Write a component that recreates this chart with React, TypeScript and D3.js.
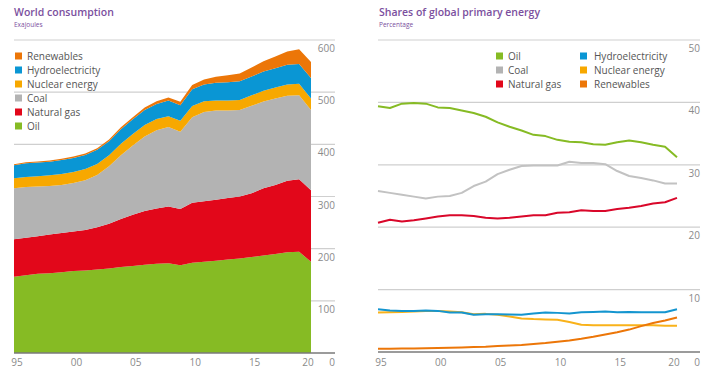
import React from 'react';
import * as d3 from 'd3';

const years = [1995, 1996, 1997, 1998, 1999, 2000, 2001, 2002, 2003, 2004, 2005, 2006, 2007, 2008, 2009, 2010, 2011, 2012, 2013, 2014, 2015, 2016, 2017, 2018, 2019, 2020];

// World consumption, exajoules
const oilEJ = [146, 149, 152, 153, 155, 157, 158, 160, 162, 165, 167, 169, 171, 172, 168, 173, 175, 177, 179, 181, 184, 187, 190, 193, 194, 175];
const gasEJ = [72, 72, 72, 74, 75, 76, 78, 81, 86, 92, 98, 103, 106, 109, 108, 115, 116, 117, 118, 119, 122, 129, 132, 137, 139, 137];
const coalEJ = [98, 97, 95, 93, 92, 93, 95, 100, 110, 122, 133, 143, 150, 152, 148, 164, 171, 171, 168, 166, 168, 166, 166, 163, 161, 154];
const nuclearEJ = [19, 19.5, 20, 20.5, 21, 21, 21.5, 21.5, 21, 22, 22, 22, 21.5, 21, 21, 21.5, 20.5, 19, 19, 19, 20, 20.5, 21, 21.5, 22, 22];
const hydroEJ = [25, 26, 26, 26, 27, 27, 27, 27, 27, 28, 28, 29, 29, 30, 30, 32, 32, 34, 35, 36, 36, 37, 37, 38, 38, 39];
const renewEJ = [2, 2, 2.2, 2.3, 2.5, 2.6, 2.8, 3.1, 3.3, 3.7, 4.1, 4.6, 5.2, 6.0, 6.8, 8.2, 9.7, 11.4, 13.2, 15, 17.3, 19.6, 22.5, 25.5, 28.5, 31];

// Shares of global primary energy, percentage
const oilPct = [39.4, 39.1, 39.8, 39.9, 39.8, 39.2, 39.1, 38.7, 38.3, 37.7, 36.8, 36.1, 35.5, 34.8, 34.6, 34.0, 33.7, 33.6, 33.3, 33.2, 33.6, 33.9, 33.6, 33.2, 32.9, 31.2];
const coalPct = [25.8, 25.5, 25.2, 24.9, 24.6, 24.9, 25.0, 25.5, 26.6, 27.3, 28.5, 29.2, 29.8, 29.9, 29.9, 29.9, 30.5, 30.3, 30.3, 30.1, 29.0, 28.2, 27.9, 27.5, 27.0, 27.0];
const gasPct = [20.7, 21.2, 20.9, 21.1, 21.4, 21.7, 21.9, 21.9, 21.8, 21.5, 21.4, 21.5, 21.7, 21.9, 21.9, 22.3, 22.4, 22.7, 22.6, 22.6, 22.9, 23.1, 23.4, 23.8, 24.0, 24.7];
const hydroPct = [6.85, 6.64, 6.59, 6.59, 6.64, 6.59, 6.32, 6.32, 5.96, 6.06, 6.06, 6.0, 5.96, 6.17, 6.32, 6.27, 6.17, 6.38, 6.43, 6.48, 6.38, 6.43, 6.38, 6.38, 6.38, 6.85];
const nuclearPct = [6.32, 6.38, 6.43, 6.48, 6.59, 6.59, 6.48, 6.38, 6.06, 6.11, 5.96, 5.69, 5.38, 5.27, 5.22, 5.17, 4.8, 4.38, 4.3, 4.27, 4.27, 4.27, 4.27, 4.27, 4.22, 4.22];
const renewPct = [0.53, 0.53, 0.55, 0.58, 0.6, 0.64, 0.69, 0.74, 0.8, 0.85, 0.95, 1.03, 1.11, 1.27, 1.43, 1.64, 1.85, 2.11, 2.43, 2.8, 3.16, 3.59, 4.15, 4.64, 5.06, 5.53];

const xTickYears = [1995, 2000, 2005, 2010, 2015, 2020];
const xTickLabels = ['95', '00', '05', '10', '15', '20'];
const leftTicks = [100, 200, 300, 400, 500, 600];
const rightTicks = [10, 20, 30, 40, 50];

const C = {
  oil: '#86bb24',
  gas: '#e2071a',
  coal: '#b3b3b3',
  nuclear: '#f7a800',
  hydro: '#0a96d4',
  renew: '#ec7608',
};
const LINE_C = {
  oil: '#86bb24',
  gas: '#d9072a',
  coal: '#c2c2c2',
  nuclear: '#f9b21a',
  hydro: '#1495cf',
  renew: '#ec7608',
};

const keys = ['oil', 'gas', 'coal', 'nuclear', 'hydro', 'renew'];
const seriesEJ: Record<string, number[]> = { oil: oilEJ, gas: gasEJ, coal: coalEJ, nuclear: nuclearEJ, hydro: hydroEJ, renew: renewEJ };
const leftLegend = [
  { k: 'renew', label: 'Renewables' },
  { k: 'hydro', label: 'Hydroelectricity' },
  { k: 'nuclear', label: 'Nuclear energy' },
  { k: 'coal', label: 'Coal' },
  { k: 'gas', label: 'Natural gas' },
  { k: 'oil', label: 'Oil' },
];
const rightLegend = [
  { k: 'oil', label: 'Oil', col: 0, row: 0 },
  { k: 'coal', label: 'Coal', col: 0, row: 1 },
  { k: 'gas', label: 'Natural gas', col: 0, row: 2 },
  { k: 'hydro', label: 'Hydroelectricity', col: 1, row: 0 },
  { k: 'nuclear', label: 'Nuclear energy', col: 1, row: 1 },
  { k: 'renew', label: 'Renewables', col: 1, row: 2 },
];
const rightLines = [
  { k: 'oil', v: oilPct },
  { k: 'coal', v: coalPct },
  { k: 'gas', v: gasPct },
  { k: 'nuclear', v: nuclearPct },
  { k: 'hydro', v: hydroPct },
  { k: 'renew', v: renewPct },
];

const FONT = '"Open Sans", "DejaVu Sans", sans-serif';
const TITLE_C = '#7b4f9e';
const GRID_C = '#cfcfcf';
const AXIS_TXT = '#8a8a8a';
const LEG_TXT = '#555555';

export default function App() {
  // Left chart scales
  const xL = d3.scaleLinear().domain([1995, 2020]).range([14, 311]);
  const yL = d3.scaleLinear().domain([0, 600]).range([353, 40]);
  const gridLX = [14, 335];

  // Right chart scales
  const xR = d3.scaleLinear().domain([1995, 2020]).range([378, 677]);
  const yR = d3.scaleLinear().domain([0, 50]).range([352, 40]);
  const gridRX = [378, 700];

  const table = years.map((y, i) => {
    const row: any = { year: y };
    keys.forEach((k) => (row[k] = seriesEJ[k][i]));
    return row;
  });
  const stacked = d3.stack().keys(keys)(table as any);
  const area = d3
    .area<any>()
    .x((d) => xL(d.data.year))
    .y0((d) => yL(d[0]))
    .y1((d) => yL(d[1]));

  const line = d3
    .line<number>()
    .x((_, i) => xR(years[i]))
    .y((d) => yR(d));

  const tickDx = (yr: number) => (yr === 2020 ? -3 : 3);

  return (
    <svg width={720} height={378} style={{ position: 'absolute', left: 0, top: 0, background: '#fff' }} fontFamily={FONT}>
      <rect x={0} y={0} width={720} height={378} fill="#fff" />
      {/* ---------- Left chart ---------- */}
      <text x={14} y={16} fontSize={10.5} fontWeight={600} fill={TITLE_C}>World consumption</text>
      <text x={14} y={27} fontSize={6.5} fill={TITLE_C}>Exajoules</text>

      {leftTicks.map((t) => (
        <g key={'lg' + t}>
          <line x1={gridLX[0]} x2={gridLX[1]} y1={yL(t)} y2={yL(t)} stroke={GRID_C} strokeWidth={1.2} />
          <text x={gridLX[1]} y={yL(t) + 12} fontSize={10} textAnchor="end" fill={AXIS_TXT}>{t}</text>
        </g>
      ))}

      {stacked.map((s: any) => (
        <path key={s.key} d={area(s) || ''} fill={(C as any)[s.key]} />
      ))}

      <line x1={gridLX[0]} x2={gridLX[1]} y1={yL(0)} y2={yL(0)} stroke="#7a7a7a" strokeWidth={1.4} />
      <text x={gridLX[1]} y={yL(0) + 12.5} fontSize={10} textAnchor="end" fill={AXIS_TXT}>0</text>
      {xTickYears.map((yr, i) => (
        <text key={'lx' + yr} x={xL(yr) + tickDx(yr)} y={yL(0) + 12.5} fontSize={10} textAnchor="middle" fill={AXIS_TXT}>
          {xTickLabels[i]}
        </text>
      ))}

      {leftLegend.map((l, i) => (
        <g key={'ll' + l.k}>
          <rect x={15} y={52.5 + i * 14} width={7} height={7} fill={(C as any)[l.k]} />
          <text x={27} y={59.5 + i * 14} fontSize={10} fill={LEG_TXT}>{l.label}</text>
        </g>
      ))}

      {/* ---------- Right chart ---------- */}
      <text x={379} y={16} fontSize={10.5} fontWeight={600} fill={TITLE_C}>Shares of global primary energy</text>
      <text x={379} y={27} fontSize={6.5} fill={TITLE_C}>Percentage</text>

      {rightTicks.map((t) => (
        <g key={'rg' + t}>
          <line x1={gridRX[0]} x2={gridRX[1]} y1={yR(t)} y2={yR(t)} stroke={GRID_C} strokeWidth={1.2} />
          <text x={gridRX[1]} y={yR(t) + 12} fontSize={10} textAnchor="end" fill={AXIS_TXT}>{t}</text>
        </g>
      ))}
      <line x1={gridRX[0]} x2={gridRX[1]} y1={yR(0)} y2={yR(0)} stroke="#7a7a7a" strokeWidth={1.4} />
      <text x={gridRX[1]} y={yR(0) + 13.5} fontSize={10} textAnchor="end" fill={AXIS_TXT}>0</text>
      {xTickYears.map((yr, i) => (
        <text key={'rx' + yr} x={xR(yr) + tickDx(yr)} y={yR(0) + 13.5} fontSize={10} textAnchor="middle" fill={AXIS_TXT}>
          {xTickLabels[i]}
        </text>
      ))}

      {rightLines.map((s) => (
        <path key={'rl' + s.k} d={line(s.v) || ''} fill="none" stroke={(LINE_C as any)[s.k]} strokeWidth={2} strokeLinejoin="round" />
      ))}

      {rightLegend.map((l) => {
        const sx = l.col === 0 ? 496 : 580;
        const tx = l.col === 0 ? 508 : 594;
        const cy = 56 + l.row * 14;
        return (
          <g key={'rlg' + l.k}>
            <rect x={sx} y={cy - 3.5} width={7} height={7} fill={(C as any)[l.k]} />
            <text x={tx} y={cy + 3.5} fontSize={10} fill={LEG_TXT}>{l.label}</text>
          </g>
        );
      })}
    </svg>
  );
}
